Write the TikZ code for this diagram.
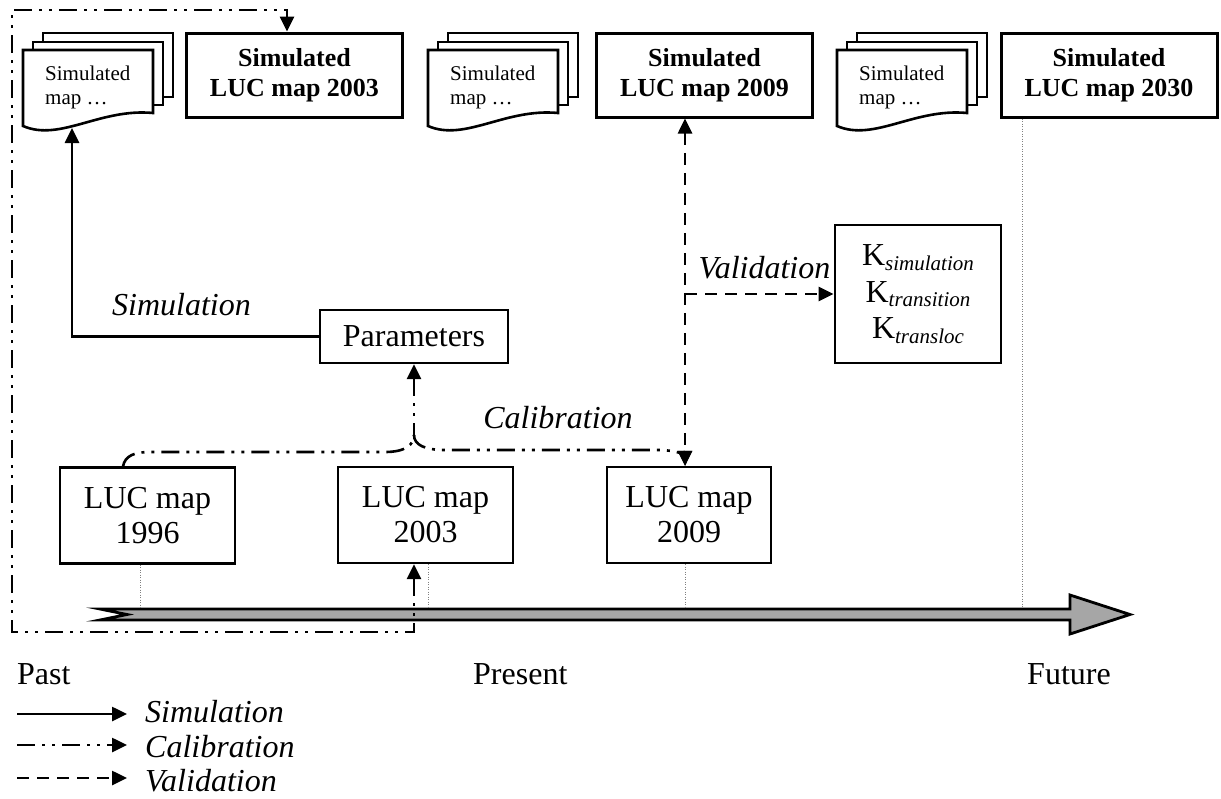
\documentclass[tikz,border=0pt]{standalone}
\usepackage{fontspec}
\setmainfont{Liberation Serif}
\usetikzlibrary{arrows.meta}
\newcommand\fmain{\fontsize{32}{35}\selectfont}
\newcommand\fbold{\fontsize{26}{30}\selectfont\bfseries}
\newcommand\fsmall{\fontsize{21}{24}\selectfont}
\newcommand\fkappa{\fontsize{32}{36.5}\selectfont}
\newcommand\ksub[1]{K\raisebox{-4.5pt}{\fontsize{21}{21}\selectfont\itshape #1}}
\definecolor{tlgray}{RGB}{166,166,166}

\tikzset{
  mapbox/.style={draw, line width=2.2pt, fill=white, align=center, inner sep=0pt,
                 font=\fmain, minimum height=96pt},
  simbox/.style={draw, line width=3pt, fill=white, align=center, inner sep=0pt,
                 font=\fbold, minimum width=216pt, minimum height=84pt},
  page/.style={draw, line width=2.6pt, fill=white, line join=miter},
  simflow/.style={line width=2.6pt},
  calflow/.style={line width=2.6pt, dash pattern=on 18pt off 7pt on 3pt off 7pt on 3pt off 7pt},
  valflow/.style={line width=2.6pt, dash pattern=on 12pt off 8pt},
  guide/.style={draw=gray, line width=0.8pt, dash pattern=on 1pt off 1.5pt},
  lbl/.style={font=\fmain\itshape, inner sep=0pt},
  plain/.style={font=\fmain, inner sep=0pt},
  timeline/.style={draw, line width=2.8pt, fill=tlgray, line join=miter},
  % stack of simulated map sheets, origin at the top-left corner of the front sheet
  docstack/.pic={
    \draw[page] (20,-17) rectangle (150,47);
    \draw[page] (10,-8) rectangle (140,55);
    \draw[page] (0,0) -- (130,0) -- (130,63) .. controls (77,58) and (37,92) .. (0,76) -- cycle;
    \node[anchor=west, inner sep=0pt, align=left, font=\fsmall] (-txt) at (22,37) {Simulated\\map \dots};
    \coordinate (-bot) at (49,78);
  }
}

\begin{document}
\begin{tikzpicture}[x=1pt, y=-1pt, >={Triangle[length=15pt,width=14pt]}]
\useasboundingbox (0,0) rectangle (1221,798);

% top row: simulated outputs
\pic (s1) at (23,50) {docstack};
\node[simbox] (sim03) at (294.5,75) {Simulated\\LUC map 2003};
\pic (s2) at (428,50) {docstack};
\node[simbox] (sim09) at (704.5,75) {Simulated\\LUC map 2009};
\pic (s3) at (837,50) {docstack};
\node[simbox] (sim30) at (1109,75) {Simulated\\LUC map 2030};

% middle: parameters and agreement statistics
\node[draw, line width=2.2pt, minimum width=188pt, minimum height=53pt, plain] (par) at (414,336.5) {Parameters};
\node[draw, line width=2.8pt, minimum width=166pt, minimum height=138pt, align=center,
      inner sep=0pt, font=\fkappa] (kbox) at (918,294) {\ksub{simulation}\\\ksub{transition}\\\ksub{transloc}};

% observed maps
\node[mapbox, minimum width=175pt] (luc96) at (147.5,515.5) {LUC map\\1996};
\node[mapbox, minimum width=175pt] (luc03) at (425.5,515) {LUC map\\2003};
\node[mapbox, minimum width=164pt] (luc09) at (689,515) {LUC map\\2009};

% flow labels
\node[lbl, anchor=base] (lsim) at (181.5,315) {Simulation};
\node[lbl, anchor=base] (lcal) at (558,428) {Calibration};
\node[lbl, anchor=base] (lval) at (764.5,278) {Validation};

% time axis
\draw[timeline] (100,609) -- (1070,609) -- (1070,595) -- (1130,614.5) -- (1070,634)
  -- (1070,620) -- (100,620) -- (127,614.5) -- cycle;

% helper coordinates
\coordinate (vx) at (685,0);
\coordinate (tl) at (0,609);
\coordinate (loopBL) at (12,632);
\coordinate (loopTL) at (12,10);
\coordinate (pk) at (414,435);
\coordinate (c03) at ([xshift=-7.5pt]sim03.north);
\coordinate (c96) at ([xshift=-24.5pt]luc96.north);
\coordinate (g1) at ([xshift=-7.5pt]luc96.south);
\coordinate (g2) at ([xshift=2.5pt]luc03.south);
\coordinate (g3) at (luc09.south -| vx);
\coordinate (g4) at ([xshift=-87pt]sim30.south);

% dotted guides down to the time axis
\draw[guide] (g1) -- (g1 |- tl);
\draw[guide] (g2) -- (g2 |- tl);
\draw[guide] (g3) -- (g3 |- tl);
\draw[guide] (g4) -- ([yshift=2pt]g4 |- tl);

% simulation
\draw[simflow,->] (par.west) -| (s1-bot);

% calibration loop around the picture
\draw[calflow,<->] (par.south |- luc03.south) -- (par.south |- loopBL) -- (loopBL)
  -- (loopTL) -- (loopTL -| c03) -- (c03);

% calibration brace from the observed maps to the parameters
\draw[calflow,<-] (par.south) -- (pk);
\draw[calflow] (c96) .. controls +(2,-11) and +(-15,0) .. (150,452) -- (385,452)
  .. controls +(20,0) and +(0,10) .. (pk);
\draw[calflow,->] (pk) .. controls +(0,10) and +(-20,0) .. (445,450) -- (660,450)
  .. controls +(15,0) and +(0,-10) .. (luc09.north -| vx);

% validation
\draw[valflow,<->] (sim09.south -| vx) -- (luc09.north -| vx);
\draw[valflow,->] (vx |- kbox.west) -- (kbox.west);

% period labels
\node[plain, anchor=base west] (past) at (17,684) {Past};
\node[plain, anchor=base west] (present) at (473,684) {Present};
\node[plain, anchor=base west] (future) at (1027,684) {Future};

% legend
\node[lbl, anchor=base west] (legS) at (145,722) {Simulation};
\node[lbl, anchor=base west] (legC) at (145,757) {Calibration};
\node[lbl, anchor=base west] (legV) at (145,791) {Validation};
\coordinate (kS) at (17,714);
\coordinate (kC) at (17,745);
\coordinate (kV) at (17,778);
\coordinate (kend) at (127,0);
\draw[simflow,->] (kS) -- (kS -| kend);
\draw[calflow,->] (kC) -- (kC -| kend);
\draw[valflow,->] (kV) -- (kV -| kend);
\end{tikzpicture}
\end{document}
